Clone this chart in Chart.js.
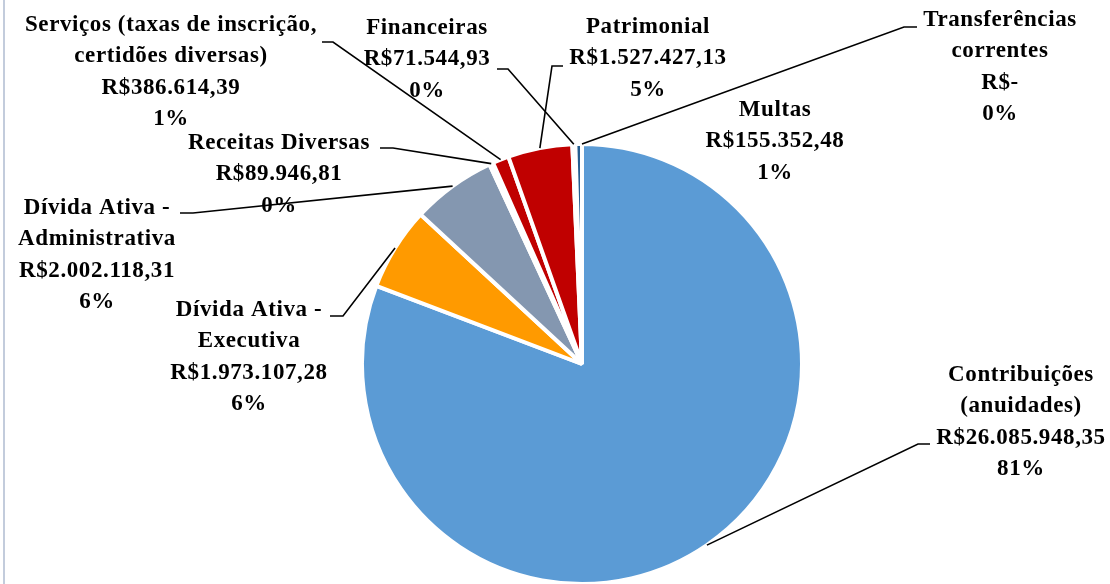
<!DOCTYPE html>
<html>
<head>
<meta charset="utf-8">
<script src="https://cdn.jsdelivr.net/npm/chart.js@4/dist/chart.umd.min.js"></script>
<style>
  html, body { margin: 0; padding: 0; background: #fff; }
  #wrap { width: 1110px; height: 584px; }
</style>
</head>
<body>
<div id="wrap"><canvas id="pie" width="1110" height="584"></canvas></div>
<script>
// Data (order = clockwise from 12 o'clock)
const categories = [
    'Contribuições\n(anuidades)',
    'Dívida Ativa -\nExecutiva',
    'Dívida Ativa -\nAdministrativa',
    'Receitas Diversas',
    'Serviços (taxas de inscrição,\ncertidões diversas)',
    'Patrimonial',
    'Financeiras',
    'Multas',
    'Transferências\ncorrentes',
];
const values = [26085948.35, 1973107.28, 2002118.31, 89946.81, 386614.39, 1527427.13, 71544.93, 155352.48, 0];
const percentLabels = ['81%', '6%', '6%', '0%', '1%', '5%', '0%', '1%', '0%'];
const sliceColors = ['#5B9BD5', '#FF9A00', '#8497B0', '#A5A5A5', '#C00000', '#C00000', '#FFC000', '#255E91', '#70AD47'];

// Where Excel put each label: centre x, first line y, and the leader stub [label side x, outer x, y]
const labelPos = [
    { x: 1021, y: 375, stub: [930, 918, 444] },
    { x: 249, y: 310, stub: [330, 343, 316] },
    { x: 97, y: 208, stub: [180, 193, 213] },
    { x: 279, y: 143, stub: [380, 393, 148] },
    { x: 171, y: 25, stub: [322, 333, 42] },
    { x: 648, y: 27, stub: [563, 552, 66] },
    { x: 427, y: 28, stub: [497, 508, 69] },
    { x: 775, y: 110, stub: null },
    { x: 1000, y: 20, stub: [917, 904, 27] },
];

const FONT = 'bold 23px "Liberation Serif", serif';
const LINE_H = 31.5;

function brl(v) {
    if (v === 0) return 'R$-';
    const parts = v.toFixed(2).split('.');
    return 'R$' + parts[0].replace(/\B(?=(\d{3})+(?!\d))/g, '.') + ',' + parts[1];
}

const labelPlugin = {
    id: 'excelLabels',
    afterDraw(chart) {
        const c = chart.ctx;
        const arcs = chart.getDatasetMeta(0).data;
        c.save();

        // thin frame line on the left
        c.strokeStyle = '#C3CCDC';
        c.lineWidth = 2;
        c.beginPath();
        c.moveTo(4, 0);
        c.lineTo(4, 584);
        c.stroke();

        // leader lines
        c.strokeStyle = '#000';
        c.lineWidth = 1.6;
        labelPos.forEach((p, i) => {
            if (!p.stub) return;
            const a = arcs[i];
            const mid = (a.startAngle + a.endAngle) / 2;
            const ex = a.x + Math.cos(mid) * a.outerRadius;
            const ey = a.y + Math.sin(mid) * a.outerRadius;
            c.beginPath();
            c.moveTo(p.stub[0], p.stub[2]);
            c.lineTo(p.stub[1], p.stub[2]);
            c.lineTo(ex, ey);
            c.stroke();
        });

        // label text
        c.fillStyle = '#000';
        c.font = FONT;
        c.letterSpacing = '0.6px';
        c.textAlign = 'center';
        c.textBaseline = 'middle';
        categories.forEach((name, i) => {
            const lines = name.split('\n').concat([brl(values[i]), percentLabels[i]]);
            lines.forEach((t, k) => {
                c.fillText(t, labelPos[i].x, labelPos[i].y + k * LINE_H);
            });
        });
        c.restore();
    },
};

new Chart(document.getElementById('pie'), {
    type: 'pie',
    data: {
        labels: categories,
        datasets: [{
            data: values,
            backgroundColor: sliceColors,
            borderColor: '#fff',
            borderWidth: 4,
            radius: 220,
        }],
    },
    options: {
        responsive: false,
        animation: false,
        layout: { padding: { left: 54, top: 144, right: 0, bottom: 0 } },
        plugins: {
            legend: { display: false },
            tooltip: { enabled: false },
        },
    },
    plugins: [labelPlugin],
});
</script>
</body>
</html>
